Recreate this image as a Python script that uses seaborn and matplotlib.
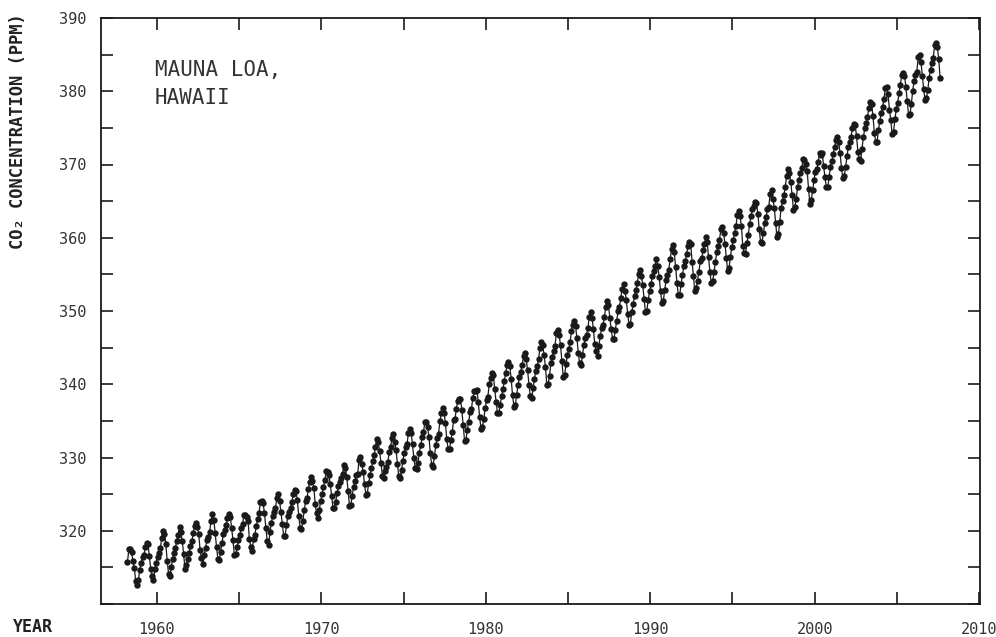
import numpy as np
import pandas as pd
import matplotlib
matplotlib.use("Agg")
import matplotlib.pyplot as plt
from matplotlib.ticker import MultipleLocator, FuncFormatter
import seaborn as sns

# Monthly CO2 (ppm) at Mauna Loa, starting March 1958
start_year = 1958
start_month = 3

co2_1958_1959 = [315.71, 317.45, 317.50, 317.10, 315.86, 314.93, 313.20, 312.66, 313.33, 314.67,
                 315.62, 316.38, 316.71, 317.72, 318.29, 318.15, 316.54, 314.80, 313.84, 313.26, 314.80, 315.58]
co2_1960s = [316.43, 316.97, 317.58, 319.02, 320.03, 319.59, 318.18, 315.91, 314.16, 313.83, 315.00, 316.19,
             316.93, 317.70, 318.54, 319.48, 320.58, 319.77, 318.57, 316.79, 314.80, 315.38, 316.10, 317.01,
             317.94, 318.56, 319.68, 320.63, 321.01, 320.55, 319.58, 317.40, 316.26, 315.42, 316.69, 317.69,
             318.74, 319.08, 319.86, 321.39, 322.25, 321.47, 319.74, 317.77, 316.21, 315.99, 317.12, 318.31,
             319.57, 320.07, 320.73, 321.77, 322.25, 321.89, 320.44, 318.70, 316.70, 316.79, 317.79, 318.71,
             319.44, 320.44, 320.89, 322.13, 322.16, 321.87, 321.39, 318.81, 317.81, 317.30, 318.87, 319.42,
             320.62, 321.59, 322.39, 323.87, 324.01, 323.75, 322.39, 320.37, 318.64, 318.10, 319.79, 321.08,
             322.07, 322.50, 323.04, 324.42, 325.00, 324.09, 322.55, 320.92, 319.31, 319.31, 320.72, 321.96,
             322.57, 323.15, 323.89, 325.02, 325.57, 325.36, 324.14, 322.03, 320.41, 320.25, 321.31, 322.84,
             324.00, 324.42, 325.64, 326.66, 327.34, 326.76, 325.88, 323.67, 322.38, 321.78, 322.85, 324.11]
co2_1970s = [325.03, 325.99, 326.87, 328.13, 328.07, 327.66, 326.35, 324.69, 323.10, 323.16, 323.98, 325.13,
             326.17, 326.68, 327.18, 327.78, 328.92, 328.57, 327.34, 325.46, 323.36, 323.57, 324.80, 326.01,
             326.77, 327.63, 327.75, 329.72, 330.07, 329.09, 328.05, 326.32, 324.93, 325.06, 326.50, 327.55,
             328.54, 329.56, 330.30, 331.50, 332.48, 332.07, 330.87, 329.31, 327.51, 327.18, 328.16, 328.64,
             329.35, 330.71, 331.48, 332.65, 333.16, 332.06, 330.99, 329.17, 327.41, 327.21, 328.33, 329.50,
             330.68, 331.41, 331.85, 333.29, 333.91, 333.40, 331.78, 329.88, 328.57, 328.46, 329.26, 330.67,
             331.71, 332.76, 333.48, 334.78, 334.78, 334.17, 332.78, 330.64, 328.95, 328.77, 330.23, 331.69,
             332.70, 333.24, 334.96, 336.04, 336.82, 336.13, 334.73, 332.52, 331.19, 331.19, 332.35, 333.47,
             335.11, 335.26, 336.60, 337.77, 338.00, 337.99, 336.48, 334.37, 332.27, 332.41, 333.76, 334.83,
             336.21, 336.64, 338.12, 339.02, 339.02, 339.20, 337.58, 335.55, 333.89, 334.14, 335.26, 336.71]
co2_1980s = [337.81, 338.29, 340.04, 340.86, 341.47, 341.26, 339.29, 337.60, 336.12, 336.08, 337.22, 338.34,
             339.36, 340.51, 341.57, 342.56, 343.01, 342.47, 340.71, 338.52, 336.96, 337.13, 338.58, 339.89,
             340.93, 341.69, 342.69, 343.79, 344.30, 343.43, 341.88, 339.89, 338.34, 338.13, 339.43, 340.73,
             341.83, 342.46, 343.44, 344.91, 345.77, 345.30, 343.98, 342.41, 339.89, 340.03, 341.19, 342.87,
             343.74, 344.55, 345.28, 347.00, 347.37, 346.74, 345.36, 343.19, 340.97, 341.20, 342.76, 343.96,
             344.82, 345.82, 347.24, 348.09, 348.66, 347.90, 346.27, 344.21, 342.88, 342.58, 343.99, 345.31,
             346.26, 346.75, 347.63, 349.24, 349.83, 349.10, 347.52, 345.43, 344.48, 343.89, 345.29, 346.54,
             347.66, 348.07, 349.12, 350.55, 351.34, 350.80, 349.10, 347.54, 346.20, 346.20, 347.44, 348.67,
             349.95, 350.52, 351.77, 353.07, 353.68, 352.75, 351.52, 349.64, 348.12, 348.27, 349.86, 350.98,
             352.08, 352.84, 353.79, 355.06, 355.66, 354.76, 353.58, 351.61, 349.89, 350.05, 351.52, 352.72]
co2_1990s = [353.64, 354.72, 355.48, 356.09, 357.08, 356.11, 354.70, 352.68, 351.05, 351.36, 352.81, 354.22,
             354.85, 355.66, 357.04, 358.40, 359.00, 357.99, 356.00, 353.78, 352.20, 352.22, 353.70, 354.98,
             356.08, 356.84, 357.73, 358.91, 359.45, 359.19, 356.72, 354.79, 352.79, 353.20, 354.15, 355.39,
             356.77, 357.17, 358.26, 359.16, 360.07, 359.41, 357.44, 355.30, 353.87, 354.04, 355.27, 356.70,
             358.00, 358.81, 359.68, 361.13, 361.48, 360.60, 359.20, 357.23, 355.42, 355.89, 357.41, 358.74,
             359.73, 360.61, 361.58, 363.05, 363.62, 363.03, 361.55, 358.94, 357.93, 357.80, 359.22, 360.44,
             361.83, 362.95, 363.91, 364.28, 364.94, 364.70, 363.31, 361.15, 359.40, 359.34, 360.62, 361.96,
             362.81, 363.87, 364.25, 366.02, 366.46, 365.32, 364.07, 361.95, 360.06, 360.49, 362.19, 364.12,
             364.99, 365.82, 366.95, 368.42, 369.33, 368.78, 367.59, 365.84, 363.83, 364.18, 365.34, 366.93,
             367.94, 368.82, 369.46, 370.77, 370.66, 370.10, 369.08, 366.66, 364.60, 365.17, 366.51, 367.89]
co2_2000s = [369.04, 369.35, 370.38, 371.63, 371.32, 371.53, 369.75, 368.23, 366.87, 366.94, 368.27, 369.64,
             370.46, 371.44, 372.37, 373.33, 373.77, 373.13, 371.51, 369.59, 368.12, 368.38, 369.66, 371.11,
             372.36, 373.09, 373.81, 374.93, 375.58, 375.44, 373.86, 371.77, 370.73, 370.50, 372.18, 373.70,
             374.92, 375.62, 376.51, 377.75, 378.54, 378.21, 376.65, 374.28, 373.12, 373.10, 374.67, 375.97,
             377.03, 377.87, 378.88, 380.42, 380.62, 379.66, 377.48, 376.07, 374.10, 374.47, 376.15, 377.51,
             378.43, 379.70, 380.91, 382.20, 382.45, 382.14, 380.60, 378.64, 376.73, 376.84, 378.29, 380.06,
             381.40, 382.20, 382.66, 384.69, 384.94, 384.01, 382.14, 380.31, 378.81, 379.03, 380.17, 381.85,
             382.94, 383.86, 384.49, 386.37, 386.54, 385.98, 384.35, 381.85]

x_ticks_labeled = [1960, 1970, 1980, 1990, 2000, 2010]
y_ticks_labeled = [320, 330, 340, 350, 360, 370, 380, 390]

co2 = co2_1958_1959 + co2_1960s + co2_1970s + co2_1980s + co2_1990s + co2_2000s
month_index = np.arange(len(co2)) + (start_month - 1)
decimal_year = start_year + (month_index + 0.5) / 12.0
df = pd.DataFrame({"year": decimal_year, "co2": co2})

sns.set_theme(style="ticks")
plt.rcParams["font.family"] = ["DejaVu Sans Mono", "DejaVu Sans"]

fig = plt.figure(figsize=(9.96, 6.37), dpi=100)
ax = fig.add_axes([101 / 996, 33 / 637, 879 / 996, 586 / 637])

sns.lineplot(data=df, x="year", y="co2", ax=ax, color="#1a1a1a", linewidth=0.9,
             marker="o", markersize=4.6, markeredgewidth=0, markerfacecolor="#1a1a1a")

ax.set_xlim(1956.6, 2010.05)
ax.set_ylim(310, 390)
ax.xaxis.set_major_locator(MultipleLocator(5))
ax.yaxis.set_major_locator(MultipleLocator(5))
ax.xaxis.set_major_formatter(FuncFormatter(lambda v, p: f"{int(round(v))}" if int(round(v)) in x_ticks_labeled else ""))
ax.yaxis.set_major_formatter(FuncFormatter(lambda v, p: f"{int(round(v))}" if int(round(v)) in y_ticks_labeled else ""))

ax.tick_params(axis="both", which="major", direction="in", length=8.5, width=1.2,
               color="#1a1a1a", labelsize=11, labelcolor="#333333",
               top=True, right=True)
ax.tick_params(axis="x", pad=13)
ax.tick_params(axis="y", pad=10.5)
for s in ax.spines.values():
    s.set_visible(True)
    s.set_linewidth(1.3)
    s.set_color("#1a1a1a")

ax.set_xlabel("")
ax.set_ylabel("")

fig.text(13 / 996, 1 - 627 / 637, "YEAR", fontsize=12, fontweight="bold", color="#222222",
         ha="left", va="center")
fig.text(18 / 996, 1 - 13 / 637, "CO₂ CONCENTRATION (PPM)", fontsize=12.3, fontweight="bold",
         color="#222222", rotation=90, ha="center", va="top")

ax.text(0.0614, 0.928, "MAUNA LOA,\nHAWAII", transform=ax.transAxes, fontsize=15,
        color="#333333", ha="left", va="top", linespacing=1.5)

fig.savefig("out.png", dpi=100)
